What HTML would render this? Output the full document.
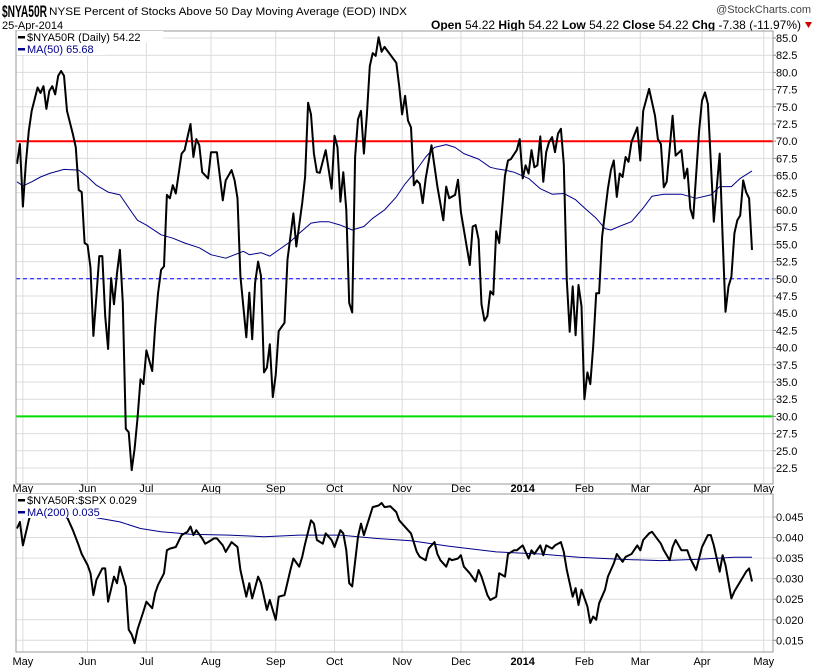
<!DOCTYPE html>
<html><head><meta charset="utf-8"><style>
body{margin:0;background:#fff;width:820px;height:668px;overflow:hidden}
svg{display:block;font-family:"Liberation Sans",Arial,sans-serif}
</style></head><body>
<svg id="chart" width="820" height="668" viewBox="0 0 820 668">
<g id="hdr">
<text x="2" y="17" font-size="17" font-weight="bold" textLength="45" lengthAdjust="spacingAndGlyphs">$NYA50R</text>
<text x="49" y="15" font-size="11" textLength="358" lengthAdjust="spacingAndGlyphs">NYSE Percent of Stocks Above 50 Day Moving Average (EOD)  INDX</text>
<text x="2" y="29" font-size="11">25-Apr-2014</text>
<text x="811" y="13" font-size="11" fill="#444" text-anchor="end">@StockCharts.com</text>
<text x="801" y="29" font-size="12" text-anchor="end"><tspan font-weight="bold">Open</tspan> 54.22 <tspan font-weight="bold">High</tspan> 54.22 <tspan font-weight="bold">Low</tspan> 54.22 <tspan font-weight="bold">Close</tspan> 54.22 <tspan font-weight="bold">Chg</tspan> -7.38 (-11.97%)</text>
<polygon points="805,22 812,22 808.5,28" fill="#c00"/>
</g>
</svg>
<script>
// ---- data ----
const monthLabels=["May","Jun","Jul","Aug","Sep","Oct","Nov","Dec","2014","Feb","Mar","Apr","May"];
const monthDays=[2,24,44,66,88,108,131,151,172,193,212,233,254];
const topTicks=[22.5,25,27.5,30,32.5,35,37.5,40,42.5,45,47.5,50,52.5,55,57.5,60,62.5,65,67.5,70,72.5,75,77.5,80,82.5,85];
const botTicks=[0.015,0.02,0.025,0.03,0.035,0.04,0.045];
const refLines=[70,50,30];
const nyaDays=[0,1,2,3,4,5,7,8,9,10,11,12,13,14,15,16,17,19,20,21,22,23,24,25,26,27,28,29,30,31,32,33,34,35,36,37,38,39,40,41,42,43,44,46,47,48,49,50,51,52,53,54,56,57,58,59,60,61,62,63,65,66,68,70,71,73,74,75,76,78,79,80,81,82,83,84,85,86,87,88,89,91,92,94,95,97,98,99,100,101,102,103,105,107,108,109,110,111,112,113,114,115,116,117,118,119,120,121,122,123,124,125,129,130,131,132,133,134,135,136,137,138,139,141,143,145,146,147,149,150,151,154,155,156,157,158,159,160,161,162,163,164,166,167,168,170,171,172,173,174,175,176,177,178,179,180,181,182,183,184,185,186,187,188,189,190,191,192,193,194,195,196,197,198,199,201,202,203,204,205,206,207,208,209,211,212,213,215,217,218,219,220,221,223,224,226,227,228,229,230,232,233,234,235,237,239,240,241,242,243,244,245,246,247,248,249,250];
const nyaVals=[66.7,69.6,60.5,66.7,71.5,74.4,77.8,77,78,74.7,77.3,78,76.8,79.5,80.2,79.5,74.4,71,69.1,62.9,62.6,55.2,54.9,51.6,41.7,47.5,53.3,53.3,44.6,39.8,50.1,46.3,50.8,54.2,46.5,28.2,27.7,22.2,25.3,29.7,35.4,34.7,39.6,36.6,43.1,48,51.3,51.8,62.2,61.7,63.6,62.4,68.2,68.7,70.6,72.5,67.7,70.3,69.4,65.5,64.6,68.4,68.4,61.4,64.3,65.8,64.3,61.7,50.4,41.5,48,41.2,49.4,52.5,50.4,36.4,37.1,40.5,32.8,36,42.4,43.6,52.8,59.5,54.7,61,64.8,75.6,73.9,68.2,65.5,65.4,68.7,63.1,70.8,69.1,61.2,65.5,60,46.5,45.1,67.7,73.2,74.4,68.2,73.9,80.9,82.8,82.4,85.1,83,83.7,81.4,78,73.9,76.6,73,72,63.6,64.3,63.8,61,64.6,69.4,63.4,58.5,63.4,61.7,62.2,64.4,59.7,52,57.6,57.8,55.7,46.3,43.9,44.6,48.2,47.7,56.9,55.2,65,67.2,67.4,68.7,70.3,64.6,66.5,65.3,68.7,66.2,66.5,70.7,64.1,68.4,69.9,70.6,68.4,71.1,71.8,66.7,49.8,42.3,48.9,41.8,49.1,46,32.5,36.4,34.7,40.2,47.9,47.9,56.1,63.1,65.8,67.2,61.9,65.3,64.8,67.7,67,69.9,72,67.2,74.4,77.6,73.7,70.3,69.6,63.3,64.1,73.7,67.9,68.7,64.6,66,60.2,58.8,71.5,75.9,77.1,75.4,58.3,68.2,56.1,45.2,48.9,50.3,56.6,58.5,59.2,64.3,62.6,61.7,54.2];
const maDays=[0,2,5,8,11,16,21,24,27,31,35,39,41,44,49,53,57,62,66,71,77,79,83,86,89,93,96,100,103,106,110,114,118,121,125,129,132,135,139,142,146,149,152,157,161,163,166,169,174,178,182,186,190,193,197,200,202,206,209,213,216,220,226,231,236,239,243,246,250];
const maVals=[64.1,63.5,64.1,64.8,65.3,65.9,65.8,64.8,63.6,62.6,62.2,59.7,58.5,57.8,56.4,55.9,55.2,54.5,53.5,53,54,53.5,53.8,53.3,54.2,55.4,56.6,58.1,58.3,58.3,57.8,57.1,57.6,58.8,60,61.9,63.8,65.3,67.7,69.1,69.5,69.1,68.2,67.4,66.2,66,65.8,65.5,64.6,63.1,62.3,62.4,61.5,60.3,58.8,57.3,57.1,57.8,58.3,60.3,62,62.3,62.3,61.7,62.2,63.4,63.4,64.6,65.68];
const relDays=[0,1,2,4,5,7,10,13,17,19,21,22,24,25,26,27,29,30,31,33,34,35,37,38,39,40,41,43,44,45,46,47,48,50,51,52,54,56,58,59,60,61,63,64,65,67,68,70,71,73,75,76,78,79,80,82,83,85,86,88,89,91,93,94,96,97,98,100,101,102,104,105,107,108,110,111,112,113,114,116,117,118,121,123,124,125,127,129,130,132,134,136,137,139,140,142,143,144,146,147,148,150,151,152,154,156,157,158,160,161,163,164,166,167,169,170,172,174,175,176,178,179,180,182,183,185,186,187,189,190,191,192,194,195,196,197,198,200,201,203,204,206,207,209,211,212,213,215,216,219,220,222,223,224,226,228,229,231,233,235,236,237,239,240,241,243,244,245,247,248,249,250];
const relVals=[0.0422,0.0438,0.0381,0.0442,0.0466,0.049,0.05,0.0505,0.045,0.0418,0.0381,0.036,0.0333,0.0313,0.026,0.0297,0.0325,0.0325,0.0244,0.0305,0.0289,0.0329,0.0281,0.0176,0.0164,0.0143,0.0176,0.022,0.0244,0.0236,0.0228,0.0265,0.0285,0.0313,0.0369,0.0373,0.0377,0.0406,0.0414,0.0427,0.0406,0.0418,0.0398,0.0385,0.0389,0.0398,0.0398,0.0381,0.0365,0.0389,0.0377,0.0321,0.0256,0.0289,0.0252,0.0305,0.0289,0.0224,0.0248,0.02,0.0256,0.026,0.0321,0.0349,0.0329,0.0353,0.0385,0.0442,0.0434,0.0394,0.0385,0.041,0.0394,0.0377,0.0418,0.041,0.0369,0.0289,0.0281,0.0402,0.0434,0.0406,0.0474,0.0478,0.0484,0.0474,0.0476,0.0462,0.0442,0.0426,0.041,0.0365,0.0353,0.0345,0.0373,0.0389,0.036,0.0345,0.0329,0.0349,0.0345,0.0349,0.0357,0.0329,0.0313,0.0293,0.0321,0.0305,0.026,0.0248,0.0256,0.0313,0.0305,0.036,0.0369,0.0369,0.0381,0.0349,0.0369,0.036,0.0381,0.0357,0.0381,0.0373,0.0381,0.0389,0.0365,0.0321,0.0256,0.0277,0.0236,0.0273,0.0232,0.0192,0.0208,0.02,0.024,0.0273,0.0305,0.0337,0.036,0.0341,0.0353,0.036,0.0381,0.0369,0.0394,0.041,0.0414,0.0385,0.0369,0.0345,0.0377,0.0394,0.0369,0.0369,0.0349,0.0321,0.0377,0.0406,0.0406,0.0381,0.0317,0.0357,0.0333,0.0252,0.0269,0.0281,0.0305,0.0317,0.0325,0.0293];
const rmaDays=[27,35,42,49,59,72,84,96,110,122,134,147,163,178,191,205,219,232,244,250];
const rmaVals=[0.0448,0.0438,0.0422,0.0414,0.0408,0.0406,0.0402,0.0406,0.0406,0.0398,0.0392,0.0379,0.0365,0.036,0.0352,0.0347,0.0344,0.0347,0.0352,0.0352];
// ---- layout ----
const L=16,R=773,T1=31,B1=484,T2=494,B2=652;
const xS=d=>17+d*(752-17)/250;
const yT=v=>38+(85-v)*6.88;
const yB=v=>517+(0.045-v)*4110;
const svg=document.getElementById('chart');
const NS='http://www.w3.org/2000/svg';
function mk(tag,attrs,parent){const e=document.createElementNS(NS,tag);for(const k in attrs)e.setAttribute(k,attrs[k]);(parent||svg).appendChild(e);return e;}
function panel(name){
 const g=mk('g',{});
 
 
 return g;}
const p1=panel('price-panel');
const p2=panel('ratio-panel');
mk('defs',{}).innerHTML='<clipPath id="c1"><rect x="16" y="31" width="757" height="453"/></clipPath><clipPath id="c2"><rect x="16" y="494" width="757" height="158"/></clipPath>';
topTicks.forEach(t=>{const y=yT(t);
 const l=mk('line',{x1:L,x2:R,y1:y,y2:y,stroke:'#dcdcdc','stroke-width':1},p1);
 
 
 const tx=mk('text',{x:776,y:y+4,'font-size':11,fill:'#000'},p1);tx.textContent=t.toFixed(1);
 
 
 mk('line',{x1:R,x2:R+3,y1:y,y2:y,stroke:'#888'},p1);});
botTicks.forEach(t=>{const y=yB(t);
 const l=mk('line',{x1:L,x2:R,y1:y,y2:y,stroke:'#dcdcdc','stroke-width':1},p2);
 
 
 const tx=mk('text',{x:776,y:y+4,'font-size':11,fill:'#000'},p2);tx.textContent=t.toFixed(3);
 
 
 mk('line',{x1:R,x2:R+3,y1:y,y2:y,stroke:'#888'},p2);});
monthDays.forEach((d,i)=>{const x=xS(d);
 [[p1,T1,B1,B1+8],[p2,T2,B2,B2+13]].forEach(([p,a,b,ly])=>{
  const l=mk('line',{x1:x,x2:x,y1:a,y2:b,stroke:'#dcdcdc'},p);
  
  
  const tx=mk('text',{x:x,y:ly,'font-size':11,'text-anchor':'middle','font-weight':monthLabels[i]==='2014'?'bold':'normal'},p);
  tx.textContent=monthLabels[i];
  
  });});
const refCol=['#f00','#00f','#0d0'];
refLines.forEach((v,i)=>{const y=yT(v);
 const l=mk('line',{x1:L,x2:R,y1:y,y2:y,stroke:refCol[i],'stroke-width':i===1?1:2,'stroke-dasharray':i===1?'4,3':'none'},p1);
 
 });
function path(days,vals,ys,col,w,p,name,clip){
 const n=Math.min(days.length,vals.length);
 let d='';for(let i=0;i<n;i++)d+=(i?'L':'M')+xS(days[i]).toFixed(1)+','+ys(vals[i]).toFixed(1);
 const e=mk('path',{d:d,fill:'none',stroke:col,'stroke-width':w,'stroke-linejoin':'round','clip-path':'url(#'+clip+')'},p);
 
 }
path(maDays,maVals,yT,'#00008b',1,p1,'ma50-line','c1');
path(nyaDays,nyaVals,yT,'#000',2,p1,'nya50r-line','c1');
path(rmaDays,rmaVals,yB,'#00008b',1,p2,'ma200-line','c2');
path(relDays,relVals,yB,'#000',2,p2,'ratio-line','c2');
[[T1,B1,p1],[T2,B2,p2]].forEach(([a,b,p])=>{const r=mk('rect',{x:L,y:a,width:R-L,height:b-a,fill:'none',stroke:'#999'},p);
 
 });
function leg(x,y,txt,col,p,name){
 const g=mk('g',{},p);
 
 
 mk('rect',{x:x-1,y:y-10,width:txt.length*6.4+12,height:12,fill:'#fff'},g);
 mk('rect',{x:x,y:y-5,width:7,height:2.5,fill:col},g);
 const t=mk('text',{x:x+9,y:y,'font-size':11,fill:col},g);t.textContent=txt;}
leg(18,41,'$NYA50R (Daily) 54.22','#000',p1,'legend-nya50r');
leg(18,53,'MA(50) 65.68','#00008b',p1,'legend-ma50');
leg(18,504,'$NYA50R:$SPX 0.029','#000',p2,'legend-ratio');
leg(18,516,'MA(200) 0.035','#00008b',p2,'legend-ma200');
</script>
</body></html>
